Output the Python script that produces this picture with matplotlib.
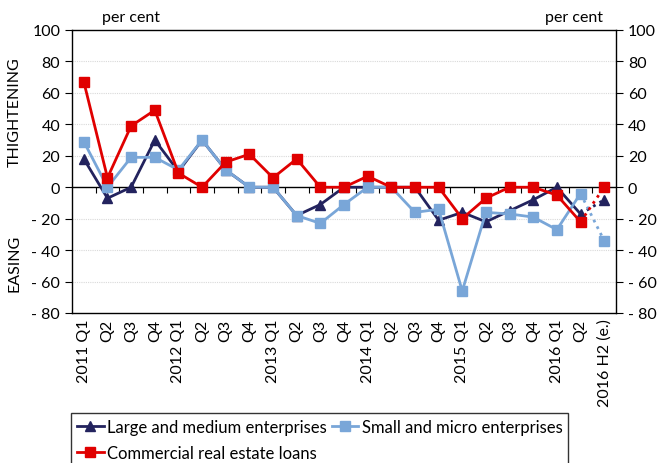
import numpy as np
import matplotlib.pyplot as plt
from matplotlib.lines import Line2D

plt.rcParams['font.family'] = ['Lato', 'DejaVu Sans']

categories = ['2011 Q1', 'Q2', 'Q3', 'Q4',
              '2012 Q1', 'Q2', 'Q3', 'Q4',
              '2013 Q1', 'Q2', 'Q3', 'Q4',
              '2014 Q1', 'Q2', 'Q3', 'Q4',
              '2015 Q1', 'Q2', 'Q3', 'Q4',
              '2016 Q1', 'Q2', '2016 H2 (e.)']

large_medium = [18, -7, 0, 30, 10, 30, 11, 0, 0, -18, -11, 0,
                0, 0, 0, -21, -16, -22, -15, -8, 0, -17, -8]
small_micro = [29, 0, 19, 19, 11, 30, 11, 0, 0, -18, -23, -11,
               0, 0, -16, -14, -66, -16, -17, -19, -27, -4, -34]
real_estate = [67, 6, 39, 49, 9, 0, 16, 21, 6, 18, 0, 0,
               7, 0, 0, 0, -20, -7, 0, 0, -5, -22, 0]

yticks = [-80, -60, -40, -20, 0, 20, 40, 60, 80, 100]
ytick_labels = ['- 80', '- 60', '- 40', '- 20', '0', '20', '40', '60', '80', '100']

navy = '#23235e'
blue = '#79a6d8'
red = '#e00000'

fig = plt.figure(figsize=(6.65, 4.64), dpi=100)
ax = fig.add_axes([72/665, 1 - 314/464, 544/665, 283/464])

x = np.arange(len(categories))
n = len(categories) - 1  # last point is the estimate, dotted

series = [
    (large_medium, navy, '^', 7.5, 'Large and medium enterprises'),
    (small_micro, blue, 's', 7, 'Small and micro enterprises'),
    (real_estate, red, 's', 7, 'Commercial real estate loans'),
]

handles = []
for vals, col, mk, ms, lab in series:
    vals = np.array(vals)
    ax.plot(x[n-1:], vals[n-1:], ls=':', color=col, lw=2)
    ax.plot(x[:n], vals[:n], '-', color=col, lw=2, marker=mk, ms=ms)
    ax.plot(x[n:], vals[n:], ls='none', color=col, marker=mk, ms=ms)
    handles.append(Line2D([], [], color=col, lw=2, marker=mk, ms=ms, label=lab))

ax.set_xlim(-0.5, len(categories) - 0.5)
ax.set_ylim(-80, 100)

# zero line with small category ticks
ax.axhline(0, color='black', lw=1, zorder=1)
ax.vlines(np.arange(0.5, n + 0.5), -3.5, 0, color='black', lw=0.8, zorder=1)

ax.set_yticks(yticks)
ax.set_yticklabels(ytick_labels)
ax.tick_params(axis='y', direction='out', length=5, labelsize=11.5,
               right=True, labelright=True)
for t in yticks:
    if t not in (0, 100, -80):
        ax.axhline(t, color='#d9d9d9', lw=0.8, ls=(0, (1, 1)), zorder=0)

ax.set_xticks(x)
ax.set_xticklabels(categories, rotation=90, fontsize=11.5)
ax.tick_params(axis='x', length=0, pad=4)

for s in ax.spines.values():
    s.set_linewidth(1)
    s.set_color('black')

fig.text(131/665, 1 - 18/464, 'per cent', ha='center', va='center', fontsize=11.5)
fig.text(574/665, 1 - 18/464, 'per cent', ha='center', va='center', fontsize=11.5)
fig.text(15/665, 1 - 112/464, 'THIGHTENING', rotation=90, ha='center', va='center', fontsize=11.5)
fig.text(15/665, 1 - 263/464, 'EASING', rotation=90, ha='center', va='center', fontsize=11.5)

# legend fills column by column: put entries so rows read large, small / real estate
leg_order = [handles[0], handles[2], handles[1]]
leg = fig.legend(handles=leg_order, loc='upper left', bbox_to_anchor=(71/665, 1 - 414/464),
                 ncol=2, fontsize=12, frameon=True, fancybox=False, edgecolor='black',
                 handlelength=1.6, handletextpad=0.2, columnspacing=0.3,
                 borderpad=0.35, labelspacing=0.6, borderaxespad=0)
leg.get_frame().set_linewidth(1)

fig.savefig('out.png', dpi=100)
